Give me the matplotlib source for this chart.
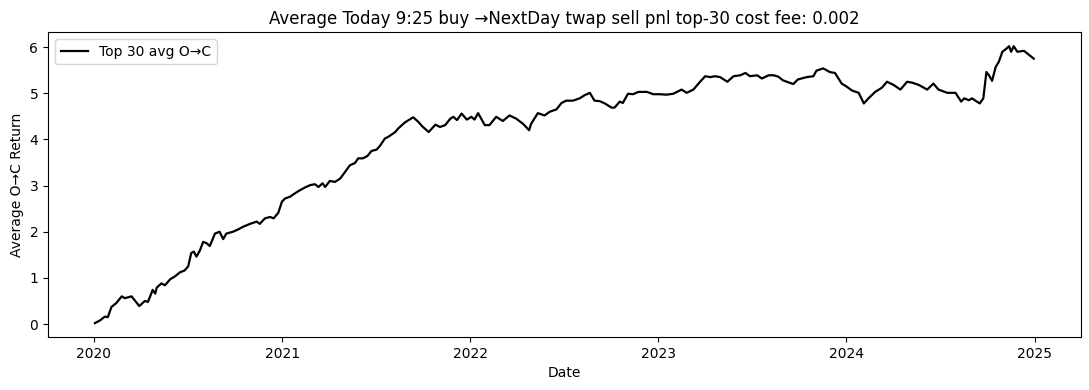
import matplotlib
matplotlib.use("Agg")
import matplotlib.pyplot as plt
import matplotlib.dates as mdates
import pandas as pd

dates = [
    # 2020
    "2020-01-03", "2020-01-13", "2020-01-22", "2020-01-28", "2020-02-04", "2020-02-13",
    "2020-02-24", "2020-03-01", "2020-03-14", "2020-03-29", "2020-04-09", "2020-04-15",
    "2020-04-24", "2020-04-29", "2020-05-02", "2020-05-11", "2020-05-18", "2020-05-28",
    "2020-06-06", "2020-06-16", "2020-06-25", "2020-07-02", "2020-07-08", "2020-07-13",
    "2020-07-18", "2020-07-25", "2020-07-31", "2020-08-07", "2020-08-13", "2020-08-23",
    "2020-09-01", "2020-09-08", "2020-09-14", "2020-09-27", "2020-10-07", "2020-10-17",
    "2020-10-30", "2020-11-12", "2020-11-18", "2020-11-28", "2020-12-08", "2020-12-15",
    "2020-12-24", "2020-12-31",
    # 2021
    "2021-01-06", "2021-01-16", "2021-01-25", "2021-02-04", "2021-02-14", "2021-02-24",
    "2021-03-05", "2021-03-12", "2021-03-20", "2021-03-25", "2021-04-03", "2021-04-13",
    "2021-04-23", "2021-05-03", "2021-05-12", "2021-05-22", "2021-05-28", "2021-06-06",
    "2021-06-15", "2021-06-23", "2021-07-03", "2021-07-10", "2021-07-19", "2021-07-26",
    "2021-08-08", "2021-08-14", "2021-08-27", "2021-09-12", "2021-09-22", "2021-09-29",
    "2021-10-12", "2021-10-25", "2021-11-03", "2021-11-13", "2021-11-23", "2021-11-29",
    "2021-12-06", "2021-12-15", "2021-12-25",
    # 2022
    "2022-01-03", "2022-01-09", "2022-01-16", "2022-01-29", "2022-02-07", "2022-02-20",
    "2022-03-05", "2022-03-18", "2022-03-31", "2022-04-13", "2022-04-25", "2022-04-29",
    "2022-05-12", "2022-05-25", "2022-06-04", "2022-06-17", "2022-06-27", "2022-07-06",
    "2022-07-19", "2022-08-01", "2022-08-11", "2022-08-21", "2022-08-30", "2022-09-09",
    "2022-09-19", "2022-10-02", "2022-10-08", "2022-10-18", "2022-10-24", "2022-11-03",
    "2022-11-13", "2022-11-23", "2022-12-10", "2022-12-22",
    # 2023
    "2023-01-04", "2023-01-17", "2023-01-30", "2023-02-15", "2023-02-25", "2023-03-10",
    "2023-03-23", "2023-04-02", "2023-04-12", "2023-04-21", "2023-05-01", "2023-05-15",
    "2023-05-27", "2023-06-09", "2023-06-19", "2023-06-28", "2023-07-12", "2023-07-21",
    "2023-08-03", "2023-08-13", "2023-08-22", "2023-08-31", "2023-09-20", "2023-09-29",
    "2023-10-16", "2023-10-29", "2023-11-04", "2023-11-17", "2023-11-30", "2023-12-10",
    "2023-12-23",
    # 2024
    "2024-01-01", "2024-01-12", "2024-01-25", "2024-02-04", "2024-02-13", "2024-02-26",
    "2024-03-10", "2024-03-20", "2024-04-02", "2024-04-15", "2024-04-28", "2024-05-08",
    "2024-05-21", "2024-06-06", "2024-06-18", "2024-06-28", "2024-07-15", "2024-07-31",
    "2024-08-11", "2024-08-17", "2024-08-26", "2024-09-01", "2024-09-16", "2024-09-23",
    "2024-09-29", "2024-10-04", "2024-10-10", "2024-10-17", "2024-10-23", "2024-10-30",
    "2024-11-05", "2024-11-12", "2024-11-16", "2024-11-21", "2024-11-28", "2024-12-11",
    "2024-12-20", "2024-12-30",
]

returns = [
    # 2020
    0.02, 0.08, 0.16, 0.15, 0.37, 0.45,
    0.60, 0.56, 0.60, 0.39, 0.50, 0.48,
    0.74, 0.66, 0.79, 0.88, 0.84, 0.97,
    1.03, 1.12, 1.16, 1.25, 1.54, 1.57,
    1.46, 1.60, 1.78, 1.75, 1.69, 1.96,
    2.00, 1.84, 1.96, 2.00, 2.05, 2.11,
    2.17, 2.22, 2.17, 2.29, 2.32, 2.29,
    2.41, 2.65,
    # 2021
    2.72, 2.76, 2.83, 2.90, 2.96, 3.01,
    3.03, 2.97, 3.05, 2.97, 3.10, 3.08,
    3.15, 3.30, 3.44, 3.49, 3.59, 3.59,
    3.64, 3.75, 3.78, 3.87, 4.02, 4.06,
    4.16, 4.24, 4.37, 4.48, 4.38, 4.29,
    4.16, 4.32, 4.27, 4.31, 4.45, 4.49,
    4.42, 4.56, 4.43,
    # 2022
    4.49, 4.43, 4.57, 4.31, 4.31, 4.49,
    4.40, 4.52, 4.45, 4.34, 4.20, 4.34,
    4.57, 4.52, 4.60, 4.65, 4.79, 4.84,
    4.84, 4.89, 4.96, 5.01, 4.84, 4.83,
    4.78, 4.69, 4.69, 4.82, 4.79, 4.99,
    4.98, 5.03, 5.03, 4.98,
    # 2023
    4.98, 4.97, 4.99, 5.08, 5.01, 5.08,
    5.25, 5.37, 5.35, 5.37, 5.35, 5.25,
    5.37, 5.39, 5.44, 5.37, 5.39, 5.32,
    5.39, 5.39, 5.36, 5.28, 5.20, 5.30,
    5.35, 5.37, 5.49, 5.54, 5.46, 5.44,
    5.21,
    # 2024
    5.15, 5.06, 5.01, 4.78, 4.89, 5.03,
    5.12, 5.25, 5.18, 5.08, 5.25, 5.23,
    5.18, 5.08, 5.21, 5.08, 5.01, 5.01,
    4.82, 4.89, 4.85, 4.89, 4.78, 4.89,
    5.46, 5.39, 5.27, 5.57, 5.68, 5.90,
    5.95, 6.02, 5.90, 6.02, 5.90, 5.92,
    5.84, 5.75,
]

series_label = "Top 30 avg O\u2192C"
title = "Average Today 9:25 buy \u2192NextDay twap sell pnl top-30 cost fee: 0.002"

fig, ax = plt.subplots(figsize=(10.89, 3.9), dpi=100)
fig.subplots_adjust(left=0.0441, right=0.9924, top=0.917, bottom=0.136)
ax.plot(pd.to_datetime(dates), returns, color="black", linewidth=1.6, label=series_label)
ax.set_title(title)
ax.set_xlabel("Date")
ax.set_ylabel("Average O\u2192C Return")
ax.xaxis.set_major_locator(mdates.YearLocator())
ax.xaxis.set_major_formatter(mdates.DateFormatter("%Y"))
ax.legend(loc="upper left")
fig.savefig("out.png", dpi=100)
